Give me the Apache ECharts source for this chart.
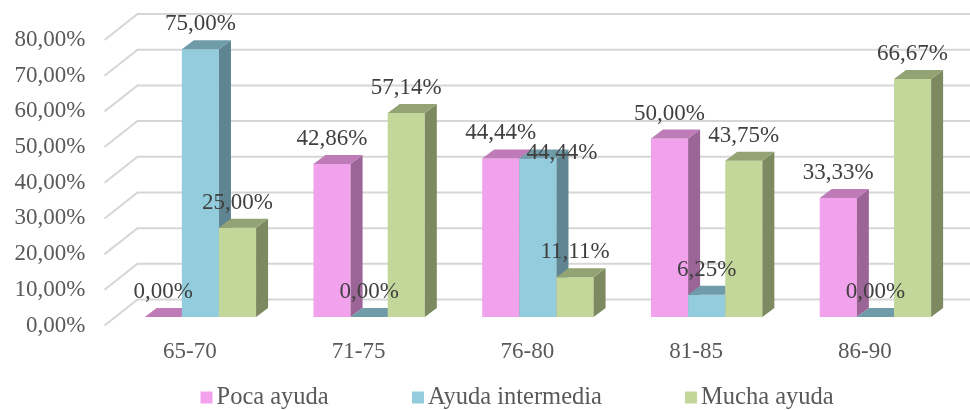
<!DOCTYPE html>
<html>
<head>
<meta charset="utf-8">
<script src="https://cdn.jsdelivr.net/npm/echarts@6/dist/echarts.min.js"></script>
<style>
  html, body { margin: 0; padding: 0; background: #fff; }
  #chart { width: 970px; height: 410px; }
</style>
</head>
<body>
<div id="chart"></div>
<script>
// Age groups and the share of each level of help needed
const categories = ['65-70', '71-75', '76-80', '81-85', '86-90'];
const seriesNames = ['Poca ayuda', 'Ayuda intermedia', 'Mucha ayuda'];
const pocaAyuda = [0, 42.86, 44.44, 50.00, 33.33];
const ayudaIntermedia = [75.00, 0, 44.44, 6.25, 0];
const muchaAyuda = [25.00, 57.14, 11.11, 43.75, 66.67];
const yTicks = [0, 10, 20, 30, 40, 50, 60, 70, 80];

// Face colours: front, top, side
const palette = [
  { front: '#F2A1EC', top: '#BE7BB7', side: '#9C6597' },
  { front: '#93CDDD', top: '#6F9CA8', side: '#5E8591' },
  { front: '#C4D79B', top: '#94A374', side: '#7D8A61' }
];

const FONT = "'Liberation Serif', 'Times New Roman', serif";
const fmt = v => v.toFixed(2).replace('.', ',') + '%';

// Oblique projection of the depth axis
const WALL_DX = 33, WALL_DY = -26;        // full floor depth
const BAR_OFF_DX = 10.5, BAR_OFF_DY = -8.5; // bars sit one third into the floor
const BAR_DX = 12, BAR_DY = -9;           // bar thickness

// manual nudge for a label that would sit on its neighbour
const labelNudge = { '1-2': [24, 20] };

// left edge of each legend entry
const legendLeft = [200.5, 412, 685];

const values = [pocaAyuda, ayudaIntermedia, muchaAyuda];

function barRenderer(sIdx) {
  return function (params, api) {
    const cat = api.value(0);
    const val = api.value(1);
    const base = api.coord([cat, 0]);
    const topPt = api.coord([cat, val]);
    const band = api.size([1, 0])[0];
    const bw = band * 0.22;
    const groupW = bw * 3;
    const x0 = base[0] + BAR_OFF_DX - groupW / 2 + sIdx * bw;
    const yB = base[1] + BAR_OFF_DY;
    const yT = topPt[1] + BAR_OFF_DY;
    const c = palette[sIdx];
    const children = [];
    if (yB - yT > 0.5) {
      children.push({
        type: 'rect',
        shape: { x: x0, y: yT, width: bw, height: yB - yT },
        style: { fill: c.front }
      });
      children.push({
        type: 'polygon',
        shape: { points: [[x0 + bw, yT], [x0 + bw, yB], [x0 + bw + BAR_DX, yB + BAR_DY], [x0 + bw + BAR_DX, yT + BAR_DY]] },
        style: { fill: c.side }
      });
    }
    children.push({
      type: 'polygon',
      shape: { points: [[x0, yT], [x0 + bw, yT], [x0 + bw + BAR_DX, yT + BAR_DY], [x0 + BAR_DX, yT + BAR_DY]] },
      style: { fill: c.top }
    });
    const nudge = labelNudge[sIdx + '-' + cat] || [0, 0];
    children.push({
      type: 'text',
      z2: 100,
      x: x0 + bw / 2 + nudge[0],
      y: yT - 25 + nudge[1],
      style: {
        text: fmt(val),
        fill: '#404040',
        font: '23px ' + FONT,
        align: 'center',
        verticalAlign: 'middle'
      }
    });
    return { type: 'group', children: children };
  };
}

function wallRenderer(params, api) {
  const v = api.value(1);
  const y = api.coord([0, v])[1];
  const cs = params.coordSys;
  const xl = cs.x - 1;
  const xr = cs.x + cs.width + 60;
  return {
    type: 'polyline',
    shape: { points: [[xl, y], [xl + WALL_DX, y + WALL_DY], [xr, y + WALL_DY]] },
    style: { stroke: '#D6D6D6', lineWidth: 2, fill: null }
  };
}

const series = [{
  type: 'custom',
  name: 'wall',
  silent: true,
  clip: false,
  z: 1,
  data: yTicks.map(v => [0, v]),
  renderItem: wallRenderer
}];

seriesNames.forEach((name, i) => {
  series.push({
    type: 'custom',
    name: name,
    clip: false,
    z: 2,
    itemStyle: { color: palette[i].front },
    data: values[i].map((v, k) => [k, v]),
    renderItem: barRenderer(i)
  });
});

const legends = seriesNames.map((name, i) => ({
  data: [name],
  left: legendLeft[i],
  top: 385,
  padding: 0,
  itemWidth: 12,
  itemHeight: 12,
  icon: 'rect',
  textStyle: { fontFamily: FONT, fontSize: 24.5, color: '#595959', padding: [0, 0, 0, -1] }
}));

const chart = echarts.init(document.getElementById('chart'), null, { renderer: 'canvas' });
chart.setOption({
  animation: false,
  backgroundColor: '#ffffff',
  grid: { left: 105.5, right: 20.7, top: 40, bottom: 84.5 },
  legend: legends,
  xAxis: {
    type: 'category',
    data: categories,
    axisLine: { show: false },
    axisTick: { show: false },
    splitLine: { show: false },
    axisLabel: { fontFamily: FONT, fontSize: 23, color: '#595959', margin: 15 }
  },
  yAxis: {
    type: 'value',
    min: 0,
    max: 80,
    interval: 10,
    axisLine: { show: false },
    axisTick: { show: false },
    splitLine: { show: false },
    axisLabel: {
      fontFamily: FONT,
      fontSize: 23,
      color: '#595959',
      margin: 20,
      formatter: v => fmt(v)
    }
  },
  series: series
});
</script>
</body>
</html>
